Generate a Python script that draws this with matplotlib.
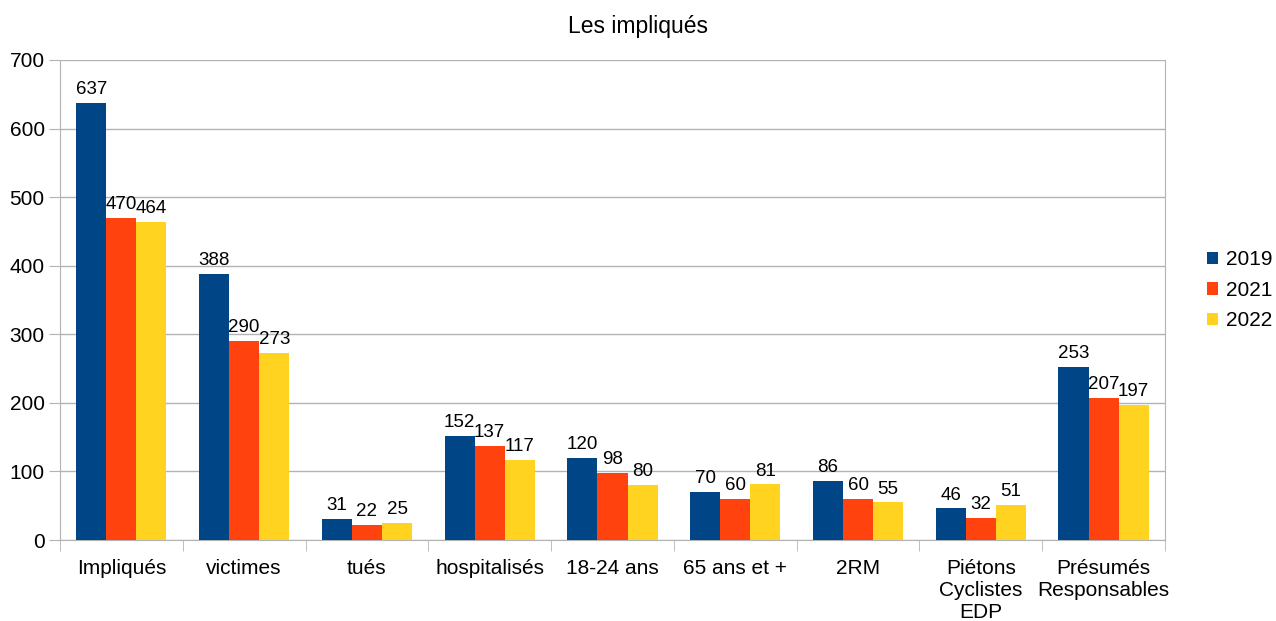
import numpy as np
import matplotlib
matplotlib.use("Agg")
import matplotlib.pyplot as plt

plt.rcParams['font.family'] = ['Liberation Sans', 'DejaVu Sans']

categories = ["Impliqués", "victimes", "tués", "hospitalisés", "18-24 ans",
              "65 ans et +", "2RM", "Piétons\nCyclistes\nEDP", "Présumés\nResponsables"]
years = ["2019", "2021", "2022"]
v2019 = [637, 388, 31, 152, 120, 70, 86, 46, 253]
v2021 = [470, 290, 22, 137, 98, 60, 60, 32, 207]
v2022 = [464, 273, 25, 117, 80, 81, 55, 51, 197]
colors = ["#004586", "#ff420e", "#ffd320"]

fig = plt.figure(figsize=(12.76, 6.21), dpi=100)
ax = fig.add_axes([0.047, 0.1304, 0.866, 0.773])

x = np.arange(len(categories))
w = 0.245
for i, (vals, yr) in enumerate(zip([v2019, v2021, v2022], years)):
    pos = x + (i - 1) * w
    ax.bar(pos, vals, w, color=colors[i], label=yr, zorder=3)
    for p, v in zip(pos, vals):
        ax.text(p, v + 7, str(v), ha="center", va="bottom", fontsize=13.5, color="#000000")

ax.set_xlim(-0.5, len(categories) - 0.5)
ax.set_ylim(0, 700)
ax.set_yticks(range(0, 701, 100))
ax.yaxis.grid(True, color="#b3b3b3", linewidth=1, zorder=0)
ax.set_xticks(x)
ax.set_xticklabels(categories, fontsize=15, linespacing=1.17)
ax.set_xticks(np.arange(-0.5, len(categories) + 0.5, 1), minor=True)
ax.tick_params(axis="x", which="major", length=0, pad=14)
ax.tick_params(axis="x", which="minor", length=8, color="#b3b3b3")
ax.tick_params(axis="y", length=8, color="#b3b3b3", labelsize=15, pad=3)
for s in ax.spines.values():
    s.set_color("#b3b3b3")
ax.spines["top"].set_visible(False)

fig.text(0.5, 0.958, "Les impliqués", ha="center", va="center", fontsize=16.5)
ax.legend(loc="center left", bbox_to_anchor=(1.0, 0.52), frameon=False,
          fontsize=15, handlelength=0.55, handleheight=0.55, handletextpad=0.38,
          labelspacing=0.55, borderaxespad=1.8, borderpad=0.2)

fig.savefig("out.png", dpi=100)
